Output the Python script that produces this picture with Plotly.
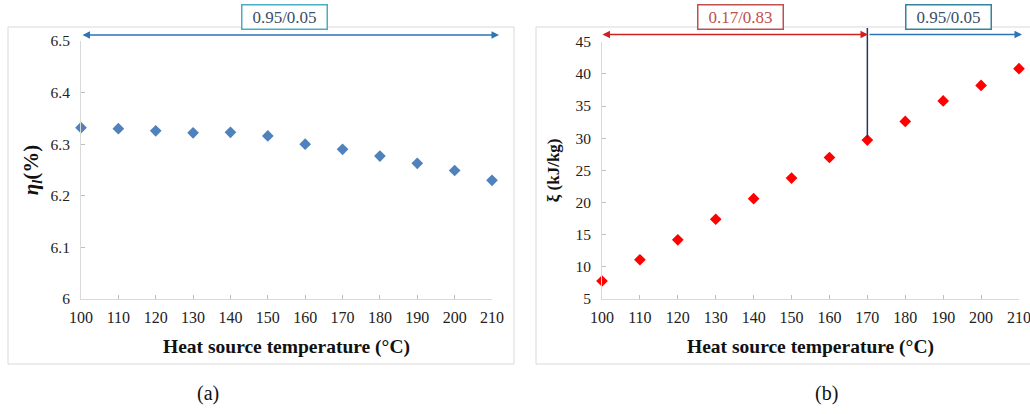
import plotly.graph_objects as go

temps = [100, 110, 120, 130, 140, 150, 160, 170, 180, 190, 200, 210]
eta = [6.332, 6.330, 6.326, 6.322, 6.323, 6.316, 6.300, 6.290, 6.277, 6.263, 6.249, 6.230]
xi = [7.8, 11.1, 14.2, 17.4, 20.6, 23.8, 27.0, 29.7, 32.6, 35.8, 38.2, 40.8]
switch_temp = 170
ratio_low = "0.17/0.83"
ratio_high = "0.95/0.05"
x_ticks = list(range(100, 211, 10))

W, H = 1030, 414
def px(v):
    return v / W
def py(v):
    return 1 - v / H

FONT = '"Liberation Serif", "Times New Roman", serif'
AX_GRAY = "#d9d9d9"
BLUE_ARROW = "#2E75B6"
RED_ARROW = "#D02020"

fig = go.Figure()
fig.add_trace(go.Scatter(x=temps, y=eta, mode="markers", xaxis="x", yaxis="y",
                         marker=dict(symbol="diamond", size=9, color="#4F81BD"),
                         showlegend=False, cliponaxis=False))
fig.add_trace(go.Scatter(x=temps, y=xi, mode="markers", xaxis="x2", yaxis="y2",
                         marker=dict(symbol="diamond", size=9, color="#FF0000"),
                         showlegend=False, cliponaxis=False))

common_x = dict(range=[100, 210], tickvals=x_ticks, showgrid=False, zeroline=False,
                showline=True, linecolor=AX_GRAY, linewidth=1, automargin=False,
                ticks="inside", ticklen=4, tickcolor="#bfbfbf", ticklabelstandoff=4,
                ticklabeloverflow="allow",
                tickfont=dict(family=FONT, size=16, color="#222"),
                title=dict(text="<b>Heat source temperature (°C)</b>",
                           font=dict(family=FONT, size=19.5, color="#111"), standoff=14))
common_y = dict(showgrid=False, zeroline=False, showline=True, linecolor=AX_GRAY, linewidth=1,
                automargin=False, ticks="inside", ticklen=4, tickcolor="#bfbfbf",
                ticklabeloverflow="allow",
                tickfont=dict(family=FONT, size=15.5, color="#222"), ticklabelstandoff=7)

fig.update_layout(
    width=W, height=H, margin=dict(l=0, r=0, t=0, b=0, autoexpand=False),
    paper_bgcolor="white", plot_bgcolor="white",
    xaxis=dict(common_x, domain=[px(81), px(492)], anchor="y"),
    yaxis=dict(common_y, domain=[py(299), py(41)], anchor="x", range=[6, 6.5],
               tickvals=[6, 6.1, 6.2, 6.3, 6.4, 6.5], ticktext=["6", "6.1", "6.2", "6.3", "6.4", "6.5"],
               title=dict(text="<b><i>η</i><sub><i>l</i></sub>(%)</b>",
                          font=dict(family=FONT, size=21, color="#111"), standoff=6)),
    xaxis2=dict(common_x, domain=[px(602), px(1019)], anchor="y2"),
    yaxis2=dict(common_y, domain=[py(299), py(41.7)], anchor="x2", range=[5, 45],
                tickvals=list(range(5, 46, 5)),
                title=dict(text="<b>ξ (kJ/kg)</b>",
                           font=dict(family=FONT, size=17, color="#111"), standoff=11)),
)

# panel borders
fig.add_shape(type="rect", xref="paper", yref="paper", x0=px(8), x1=px(514), y0=py(364), y1=py(27),
              line=dict(color=AX_GRAY, width=1), layer="below")
fig.add_shape(type="rect", xref="paper", yref="paper", x0=px(536), x1=px(1040), y0=py(364), y1=py(27),
              line=dict(color=AX_GRAY, width=1), layer="below")

# vertical divider at switch temperature
fig.add_shape(type="line", xref="x2", yref="paper", x0=switch_temp, x1=switch_temp,
              y0=py(138), y1=py(28), line=dict(color="#1F3864", width=1.5))

# arrows (paper coordinates, pixel tails)
def arrow(x0_px, x1_px, y_px, color, both=True):
    fig.add_annotation(xref="paper", yref="paper", x=px(x1_px), y=py(y_px),
                       axref="pixel", ayref="pixel", ax=-(x1_px - x0_px), ay=0,
                       text="", showarrow=True,
                       arrowhead=2, startarrowhead=2, arrowsize=1, startarrowsize=1,
                       arrowwidth=1.5, arrowcolor=color, standoff=0, startstandoff=0,
                       arrowside="end+start" if both else "end")

arrow(81, 499, 35, BLUE_ARROW)
arrow(601, 868, 34.5, RED_ARROW)
arrow(868, 1022, 34.5, BLUE_ARROW, both=False)

# ratio boxes
def box(cx, cy, text, border, color):
    fig.add_annotation(xref="paper", yref="paper", x=px(cx), y=py(cy), text=text,
                       showarrow=False, font=dict(family=FONT, size=17, color=color),
                       bordercolor=border, borderwidth=1.5, borderpad=2, bgcolor="white",
                       xanchor="center", yanchor="middle", width=80)

box(284, 17, ratio_high, "#4BACC6", "#3B4E6B")
box(740, 17, ratio_low, "#C0504D", "#C0504D")
box(948, 17, ratio_high, "#31859C", "#3B4E6B")

# panel labels
fig.add_annotation(xref="paper", yref="paper", x=px(208), y=py(393), text="(a)", showarrow=False,
                   xanchor="center", yanchor="middle",
                   font=dict(family=FONT, size=20, color="#111"))
fig.add_annotation(xref="paper", yref="paper", x=px(826), y=py(393), text="(b)", showarrow=False,
                   xanchor="center", yanchor="middle",
                   font=dict(family=FONT, size=20, color="#111"))

fig.write_html("out.html", post_script="document.body.style.margin='0px';",
               config={"displayModeBar": False})
